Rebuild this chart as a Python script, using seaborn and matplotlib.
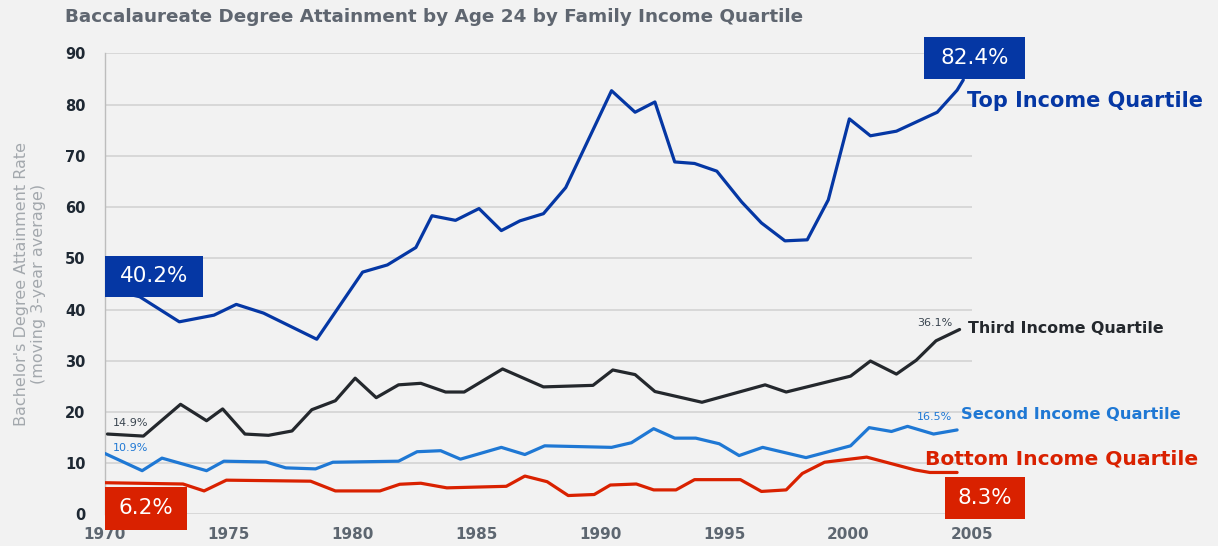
import numpy as np
import pandas as pd
import seaborn as sns
import matplotlib.pyplot as plt
from matplotlib.patches import Rectangle

sns.set_theme(style="white")
plt.rcParams['font.family'] = ['DejaVu Sans']

"""
data read off the chart (year, rate in %)
"""
top_years = [1970.0, 1971.4, 1973.0, 1974.4, 1975.3, 1976.4, 1978.55, 1980.4, 1981.4, 1982.55,
             1983.2, 1984.15, 1985.1, 1986.0, 1986.75, 1987.7, 1988.6, 1990.45, 1991.4, 1992.2,
             1993.0, 1993.8, 1994.7, 1995.7, 1996.5, 1997.45, 1998.35, 1999.2, 2000.05, 2000.9,
             2001.95, 2003.6, 2004.4, 2004.65]
top_vals = [44.0, 42.5, 37.6, 38.9, 41.0, 39.3, 34.2, 47.3, 48.7, 52.1,
            58.3, 57.4, 59.7, 55.4, 57.3, 58.7, 63.8, 82.7, 78.5, 80.5,
            68.8, 68.5, 67.0, 61.0, 56.9, 53.4, 53.6, 61.4, 77.2, 73.9,
            74.8, 78.5, 82.8, 84.8]

third_years = [1970.1, 1971.55, 1973.05, 1974.1, 1974.75, 1975.65, 1976.6, 1977.55, 1978.35, 1979.3,
               1980.1, 1980.95, 1981.85, 1982.75, 1983.75, 1984.5, 1986.05, 1987.7, 1989.7, 1990.5,
               1991.4, 1992.2, 1994.1, 1996.65, 1997.5, 2000.1, 2000.9, 2001.95, 2002.75, 2003.55,
               2004.5]
third_vals = [15.7, 15.3, 21.5, 18.3, 20.6, 15.7, 15.45, 16.3, 20.45, 22.2,
              26.6, 22.8, 25.3, 25.6, 23.9, 23.9, 28.4, 24.9, 25.2, 28.2,
              27.3, 24.0, 21.9, 25.3, 23.9, 27.0, 29.95, 27.4, 30.1, 33.9,
              36.1]

second_years = [1970.0, 1971.5, 1972.3, 1974.1, 1974.8, 1976.5, 1977.3, 1978.5, 1979.2, 1981.85,
                1982.6, 1983.55, 1984.35, 1986.0, 1986.95, 1987.75, 1990.45, 1991.25, 1992.15, 1993.0,
                1993.85, 1994.8, 1995.6, 1996.55, 1998.3, 2000.1, 2000.85, 2001.75, 2002.4, 2003.45,
                2004.4]
second_vals = [11.9, 8.55, 11.0, 8.55, 10.4, 10.25, 9.1, 8.9, 10.2, 10.4,
               12.25, 12.45, 10.8, 13.1, 11.7, 13.4, 13.1, 14.0, 16.75, 14.9,
               14.9, 13.8, 11.5, 13.1, 11.1, 13.4, 16.95, 16.2, 17.2, 15.7,
               16.5]

bottom_years = [1970.0, 1973.15, 1974.0, 1974.9, 1978.3, 1979.3, 1981.1, 1981.9, 1982.75, 1983.8,
                1986.2, 1986.95, 1987.85, 1988.7, 1989.75, 1990.4, 1991.45, 1992.15, 1993.05, 1993.8,
                1995.65, 1996.5, 1997.5, 1998.15, 1999.05, 2000.75, 2002.7, 2003.3, 2004.4]
bottom_vals = [6.2, 5.95, 4.6, 6.7, 6.5, 4.6, 4.6, 5.9, 6.1, 5.2,
               5.5, 7.5, 6.4, 3.7, 3.9, 5.75, 5.95, 4.8, 4.8, 6.8,
               6.8, 4.5, 4.8, 8.0, 10.2, 11.2, 8.7, 8.2, 8.2]

x_ticks = [1970, 1975, 1980, 1985, 1990, 1995, 2000, 2005]
y_ticks = [0, 10, 20, 30, 40, 50, 60, 70, 80, 90]

c_top = '#0537a4'
c_third = '#24282d'
c_second = '#1f78d4'
c_bottom = '#d92100'
bg = '#f2f2f2'

fig = plt.figure(figsize=(12.18, 5.46), dpi=100, facecolor=bg)
ax = fig.add_axes([0.0862, 0.0577, 0.7118, 0.8447], facecolor=bg)

for xs, ys, c in [(bottom_years, bottom_vals, c_bottom),
                  (second_years, second_vals, c_second),
                  (third_years, third_vals, c_third),
                  (top_years, top_vals, c_top)]:
    sns.lineplot(x=xs, y=ys, color=c, linewidth=2.3, estimator=None, sort=False, ax=ax, zorder=3)

ax.set_xlim(1970, 2005)
ax.set_ylim(0, 90)
ax.set_xticks(x_ticks)
ax.set_yticks(y_ticks)
ax.set_xticklabels(x_ticks, fontsize=11, fontweight='bold', color='#5d6670')
ax.set_yticklabels(y_ticks, fontsize=10.5, fontweight='bold', color='#1e2833')
ax.tick_params(axis='x', length=0, pad=9)
ax.tick_params(axis='y', length=0, pad=14)
ax.grid(axis='y', color='#d6d6d6', linewidth=1.3, zorder=0)
ax.set_axisbelow(True)
for s in ['top', 'right', 'bottom']:
    ax.spines[s].set_visible(False)
ax.spines['left'].set_color('#bdbdbd')
ax.spines['left'].set_linewidth(1.0)

fig.text(0.0534, 0.968, "Baccalaureate Degree Attainment by Age 24 by Family Income Quartile",
         fontsize=13.2, fontweight='bold', color='#5f6670', ha='left', va='center')

fig.text(0.0246, 0.48, "Bachelor's Degree Attainment Rate\n(moving 3-year average)",
         rotation=90, ha='center', va='center', multialignment='center',
         fontsize=11.5, color='#a3a8ad', linespacing=1.15)

# value boxes
boxes = [
    (1970.0, 42.45, 3.94, 8.0, c_top, "40.2%"),
    (2003.06, 85.0, 4.08, 8.2, c_top, "82.4%"),
    (2003.91, -0.9, 3.23, 8.2, c_bottom, "8.3%"),
    (1970.0, -3.0, 3.3, 8.4, c_bottom, "6.2%"),
]
for x0, y0, w, h, c, t in boxes:
    ax.add_patch(Rectangle((x0, y0), w, h, facecolor=c, edgecolor='none',
                           clip_on=False, zorder=5))
    ax.text(x0 + w / 2, y0 + h / 2, t, color='white', fontsize=15.5, ha='center',
            va='center', clip_on=False, zorder=6)

# series labels
ax.text(2004.8, 80.7, "Top Income Quartile", color=c_top, fontsize=15,
        fontweight='bold', ha='left', va='center', clip_on=False)
ax.text(2004.84, 36.2, "Third Income Quartile", color=c_third, fontsize=11.4,
        fontweight='bold', ha='left', va='center', clip_on=False)
ax.text(2004.56, 19.6, "Second Income Quartile", color=c_second, fontsize=11.7,
        fontweight='bold', ha='left', va='center', clip_on=False)
ax.text(2003.1, 10.8, "Bottom Income Quartile", color=c_bottom, fontsize=14.6,
        fontweight='bold', ha='left', va='center', clip_on=False)

ax.text(2003.5, 37.4, "36.1%", color='#3a4550', fontsize=8, ha='center', va='center')
ax.text(2003.5, 19.0, "16.5%", color=c_second, fontsize=8, ha='center', va='center')
ax.text(1970.3, 17.85, "14.9%", color='#3a4550', fontsize=8, ha='left', va='center')
ax.text(1970.3, 13.0, "10.9%", color=c_second, fontsize=8, ha='left', va='center')

plt.savefig("out.png", dpi=100, facecolor=bg)
